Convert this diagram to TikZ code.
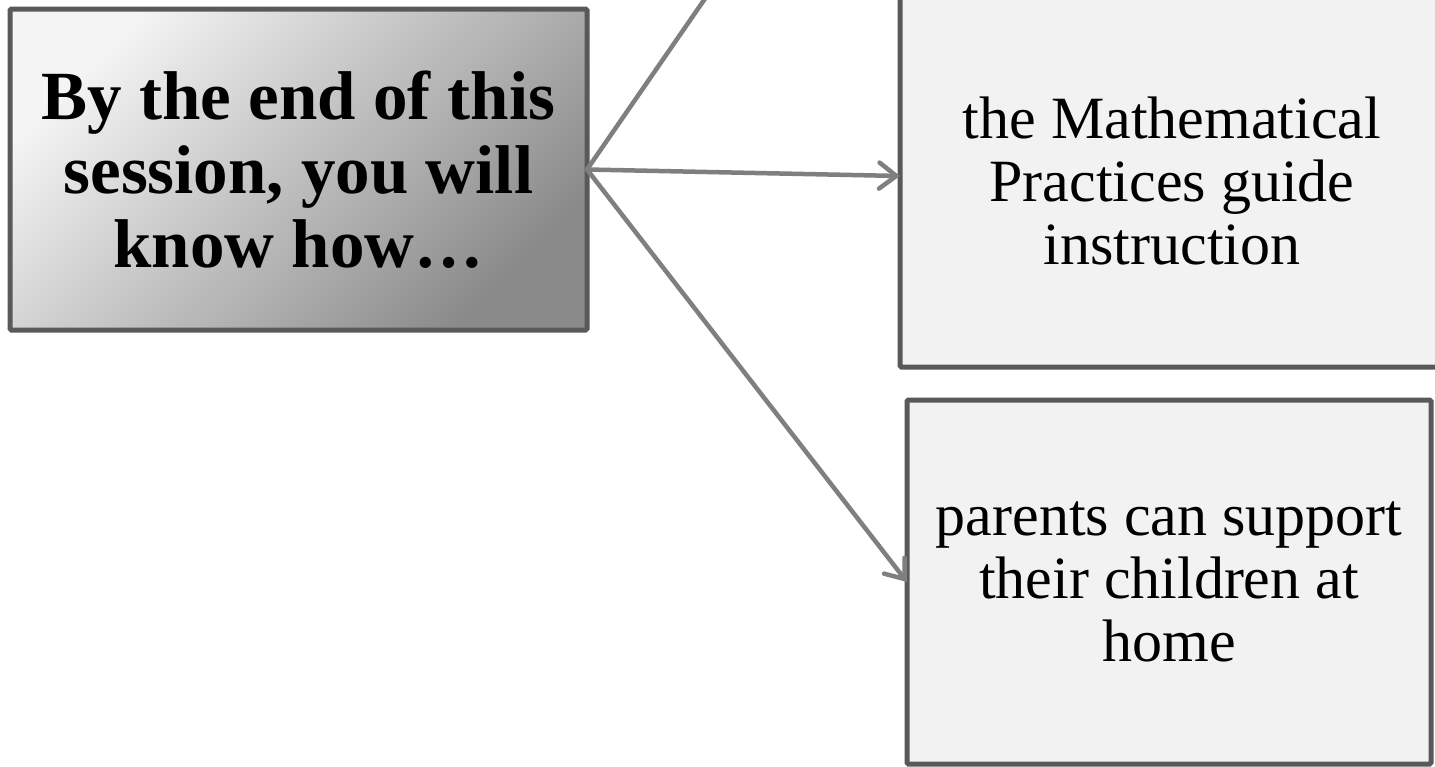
\documentclass[tikz,border=0pt]{standalone}
\usepackage{fontspec}
\setmainfont{Liberation Serif}
\usetikzlibrary{arrows.meta}
\definecolor{boxline}{HTML}{595959}
\definecolor{arrowc}{HTML}{7F7F7F}
\definecolor{boxfill}{HTML}{F2F2F2}
\definecolor{gradlight}{HTML}{F4F4F4}
\definecolor{graddark}{HTML}{8A8A8A}
\tikzset{
  titlebox/.style={draw=boxline, line width=5pt, rounded corners=1.5pt, inner sep=0pt, outer sep=0pt,
    top color=gradlight, bottom color=graddark, shading angle=45,
    align=center, font=\fontsize{69}{74}\selectfont\bfseries},
  itembox/.style={draw=boxline, line width=5pt, rounded corners=1.5pt, inner sep=0pt, outer sep=0pt,
    fill=boxfill, align=center, font=\fontsize{60}{63}\selectfont},
  conn/.style={draw=arrowc, line width=4.5pt, line cap=round},
  arr/.style={conn, -{Straight Barb[length=17pt,width=26pt,line width=4.5pt, line cap=round]}}
}
\begin{document}
\begin{tikzpicture}[x=1pt,y=-1pt]
\useasboundingbox (0,0) rectangle (1435,766);
\clip (0,0) rectangle (1435,766);
\fill[white] (0,0) rectangle (1435,766);
\node[titlebox, minimum width=577pt, minimum height=321pt] (L) at (298.5,169.5)
  {By the end of this\\session, you will\\know how\ldots};
\node[itembox, minimum width=544pt, minimum height=372pt] (R1) at (1172,181)
  {the Mathematical\\Practices guide\\instruction};
\node[itembox, minimum width=524pt, minimum height=364pt] (R2) at (1169,582)
  {parents can support\\their children at\\home};
\coordinate (up) at (780,-110);
\draw[conn] (L.east) -- (up);
\draw[arr] (L.east) -- ([yshift=5pt]R1.west);
\draw[arr] (L.east) -- (R2.west);
\end{tikzpicture}
\end{document}
